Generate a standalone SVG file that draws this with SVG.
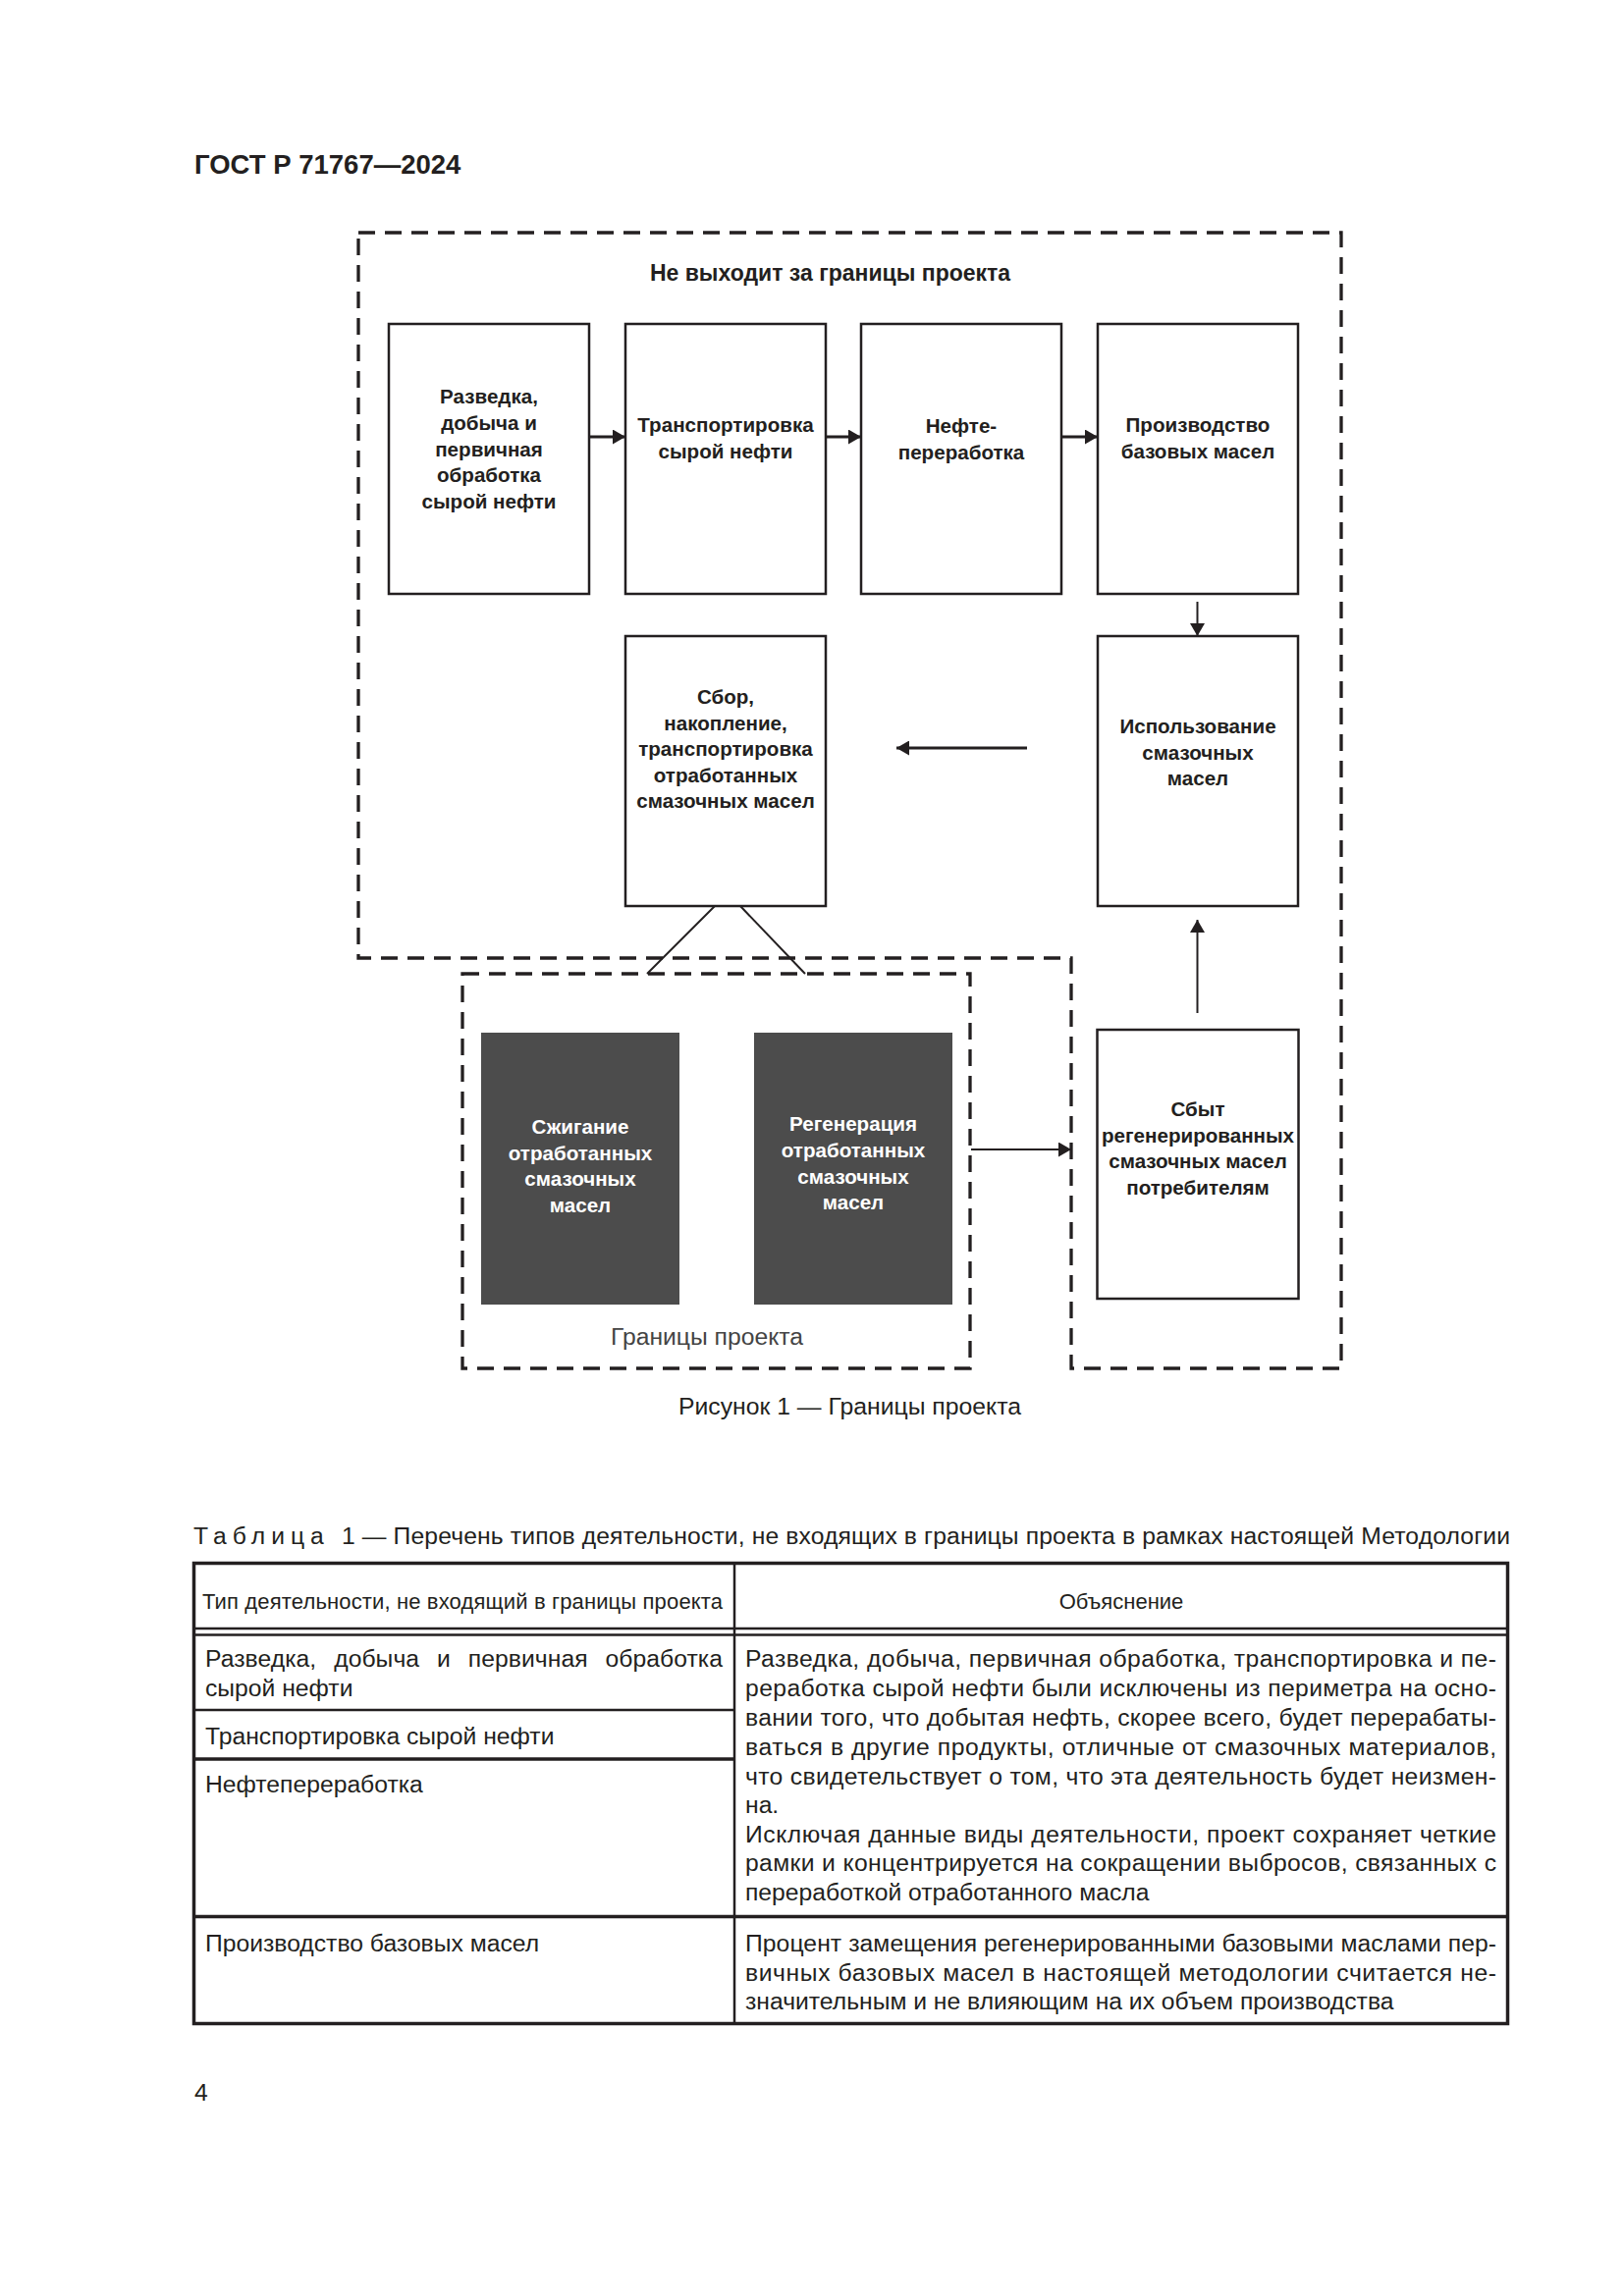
<svg xmlns="http://www.w3.org/2000/svg" width="1654" height="2339" viewBox="0 0 1654 2339">
<style>
.box{fill:#fff;stroke:#231f20;stroke-width:2.5}
.dark{fill:#4c4c4c}
.dash{fill:none;stroke:#231f20;stroke-width:3.3;stroke-dasharray:17 10}
.lbl{font-family:"Liberation Sans",Arial,sans-serif;font-weight:bold;font-size:20.6px;fill:#231f20;text-anchor:middle}
.wlbl{font-family:"Liberation Sans",Arial,sans-serif;font-weight:bold;font-size:20.6px;fill:#fff;text-anchor:middle}
.conn{stroke:#231f20;stroke-width:3;fill:none}
.thin{stroke-width:2}
.t{font-family:"Liberation Sans",Arial,sans-serif;font-size:24.7px;fill:#231f20}
.th{font-family:"Liberation Sans",Arial,sans-serif;font-size:22px;fill:#231f20}
.tl{stroke:#231f20;stroke-width:2.5;fill:none}
.tk{stroke:#231f20;stroke-width:3.5;fill:none}
</style>
<defs>
<marker id="ah" viewBox="0 0 13 15" refX="13" refY="7.5" markerWidth="13" markerHeight="15" markerUnits="userSpaceOnUse" orient="auto">
<path d="M0,0 L13,7.5 L0,15 z" fill="#231f20"/>
</marker>
</defs>
<rect width="1654" height="2339" fill="#fff"/>

<text x="198" y="177" font-family="Liberation Sans, Arial, sans-serif" font-weight="bold" font-size="27.5" fill="#231f20">ГОСТ Р 71767—2024</text>

<g id="boundary-outside">
<path class="dash" d="M365,237 H1366 V1394 H1091 V976 H365 Z"/>
<text class="lbl" x="845.5" y="286" style="font-size:23px">Не выходит за границы проекта</text>
</g>

<g id="boundary-project">
<rect class="dash" x="471" y="992" width="517" height="402"/>
<text x="720" y="1370" font-family="Liberation Sans, Arial, sans-serif" font-size="24.7" fill="#444" text-anchor="middle">Границы проекта</text>
</g>

<g id="n-razvedka">
<rect class="box" x="396" y="330" width="204" height="275"/>
<text class="lbl" x="498" y="411">Разведка,</text>
<text class="lbl" x="498" y="438">добыча и</text>
<text class="lbl" x="498" y="464.5">первичная</text>
<text class="lbl" x="498" y="491">обработка</text>
<text class="lbl" x="498" y="518">сырой нефти</text>
</g>

<g id="n-transport">
<rect class="box" x="637" y="330" width="204" height="275"/>
<text class="lbl" x="739" y="440">Транспортировка</text>
<text class="lbl" x="739" y="467">сырой нефти</text>
</g>

<g id="n-neftepererabotka">
<rect class="box" x="877" y="330" width="204" height="275"/>
<text class="lbl" x="979" y="441">Нефте-</text>
<text class="lbl" x="979" y="468">переработка</text>
</g>

<g id="n-proizvodstvo">
<rect class="box" x="1118" y="330" width="204" height="275"/>
<text class="lbl" x="1220" y="440">Производство</text>
<text class="lbl" x="1220" y="467">базовых масел</text>
</g>

<g id="n-sbor">
<rect class="box" x="637" y="648" width="204" height="275"/>
<text class="lbl" x="739" y="717">Сбор,</text>
<text class="lbl" x="739" y="743.5">накопление,</text>
<text class="lbl" x="739" y="770">транспортировка</text>
<text class="lbl" x="739" y="796.5">отработанных</text>
<text class="lbl" x="739" y="823">смазочных масел</text>
</g>

<g id="n-ispolzovanie">
<rect class="box" x="1118" y="648" width="204" height="275"/>
<text class="lbl" x="1220" y="747">Использование</text>
<text class="lbl" x="1220" y="773.5">смазочных</text>
<text class="lbl" x="1220" y="800">масел</text>
</g>

<g id="n-szhiganie">
<rect class="dark" x="490" y="1052" width="202" height="277"/>
<text class="wlbl" x="591" y="1155">Сжигание</text>
<text class="wlbl" x="591" y="1181.5">отработанных</text>
<text class="wlbl" x="591" y="1208">смазочных</text>
<text class="wlbl" x="591" y="1235">масел</text>
</g>

<g id="n-regeneracia">
<rect class="dark" x="768" y="1052" width="202" height="277"/>
<text class="wlbl" x="869" y="1152">Регенерация</text>
<text class="wlbl" x="869" y="1179">отработанных</text>
<text class="wlbl" x="869" y="1205.5">смазочных</text>
<text class="wlbl" x="869" y="1232">масел</text>
</g>

<g id="n-sbyt">
<rect class="box" x="1117.5" y="1049" width="205" height="274"/>
<text class="lbl" x="1220" y="1137">Сбыт</text>
<text class="lbl" x="1220" y="1163.5">регенерированных</text>
<text class="lbl" x="1220" y="1190">смазочных масел</text>
<text class="lbl" x="1220" y="1216.5">потребителям</text>
</g>

<g id="connectors">
<line class="conn" x1="600" y1="445" x2="637" y2="445" marker-end="url(#ah)"/>
<line class="conn" x1="841" y1="445" x2="877" y2="445" marker-end="url(#ah)"/>
<line class="conn" x1="1081" y1="445" x2="1118" y2="445" marker-end="url(#ah)"/>
<line class="conn thin" x1="1219.5" y1="613" x2="1219.5" y2="648" marker-end="url(#ah)"/>
<line class="conn" x1="1046" y1="762" x2="913" y2="762" marker-end="url(#ah)"/>
<line class="conn thin" x1="1219.5" y1="1032" x2="1219.5" y2="937" marker-end="url(#ah)"/>
<line class="conn thin" x1="989" y1="1171" x2="1091" y2="1171" marker-end="url(#ah)"/>
<line class="conn thin" x1="728" y1="923" x2="659" y2="992"/>
<line class="conn thin" x1="754" y1="923" x2="820" y2="992"/>
</g>

<text x="691" y="1441" font-family="Liberation Sans, Arial, sans-serif" font-size="24.5" fill="#231f20" textLength="349" lengthAdjust="spacingAndGlyphs">Рисунок 1 — Границы проекта</text>

<g id="table">
<text class="t" x="197" y="1573" letter-spacing="6">Таблица</text>
<text class="t" x="348" y="1573" textLength="1190" lengthAdjust="spacing">1 — Перечень типов деятельности, не входящих в границы проекта в рамках настоящей Методологии</text>

<rect class="tk" x="197.5" y="1592.5" width="1338" height="469"/>
<line class="tl" x1="748" y1="1592.5" x2="748" y2="2061.5"/>
<line class="tl" x1="197.5" y1="1659" x2="1535.5" y2="1659"/>
<line class="tl" x1="197.5" y1="1665.5" x2="1535.5" y2="1665.5"/>
<line class="tl" x1="197.5" y1="1742" x2="748" y2="1742"/>
<line class="tk" x1="197.5" y1="1792" x2="748" y2="1792"/>
<line class="tk" x1="197.5" y1="1952.5" x2="1535.5" y2="1952.5"/>

<text class="th" x="206" y="1639" textLength="530" lengthAdjust="spacing">Тип деятельности, не входящий в границы проекта</text>
<text class="th" x="1142" y="1639" text-anchor="middle">Объяснение</text>

<text class="t" x="209" y="1698" word-spacing="11" textLength="527" lengthAdjust="spacing">Разведка, добыча и первичная обработка</text>
<text class="t" x="209" y="1728">сырой нефти</text>
<text class="t" x="209" y="1777">Транспортировка сырой нефти</text>
<text class="t" x="209" y="1826">Нефтепереработка</text>
<text class="t" x="209" y="1988">Производство базовых масел</text>

<text class="t" x="759" y="1698" textLength="765" lengthAdjust="spacing">Разведка, добыча, первичная обработка, транспортировка и пе-</text>
<text class="t" x="759" y="1728" textLength="765" lengthAdjust="spacing">реработка сырой нефти были исключены из периметра на осно-</text>
<text class="t" x="759" y="1758" textLength="765" lengthAdjust="spacing">вании того, что добытая нефть, скорее всего, будет перерабаты-</text>
<text class="t" x="759" y="1788" textLength="765" lengthAdjust="spacing">ваться в другие продукты, отличные от смазочных материалов,</text>
<text class="t" x="759" y="1817.5" textLength="765" lengthAdjust="spacing">что свидетельствует о том, что эта деятельность будет неизмен-</text>
<text class="t" x="759" y="1847">на.</text>
<text class="t" x="759" y="1876.5" textLength="765" lengthAdjust="spacing">Исключая данные виды деятельности, проект сохраняет четкие</text>
<text class="t" x="759" y="1906" textLength="765" lengthAdjust="spacing">рамки и концентрируется на сокращении выбросов, связанных с</text>
<text class="t" x="759" y="1936">переработкой отработанного масла</text>

<text class="t" x="759" y="1988" textLength="765" lengthAdjust="spacing">Процент замещения регенерированными базовыми маслами пер-</text>
<text class="t" x="759" y="2017.5" textLength="765" lengthAdjust="spacing">вичных базовых масел в настоящей методологии считается не-</text>
<text class="t" x="759" y="2047">значительным и не влияющим на их объем производства</text>
</g>

<text class="t" x="198" y="2140">4</text>
</svg>
